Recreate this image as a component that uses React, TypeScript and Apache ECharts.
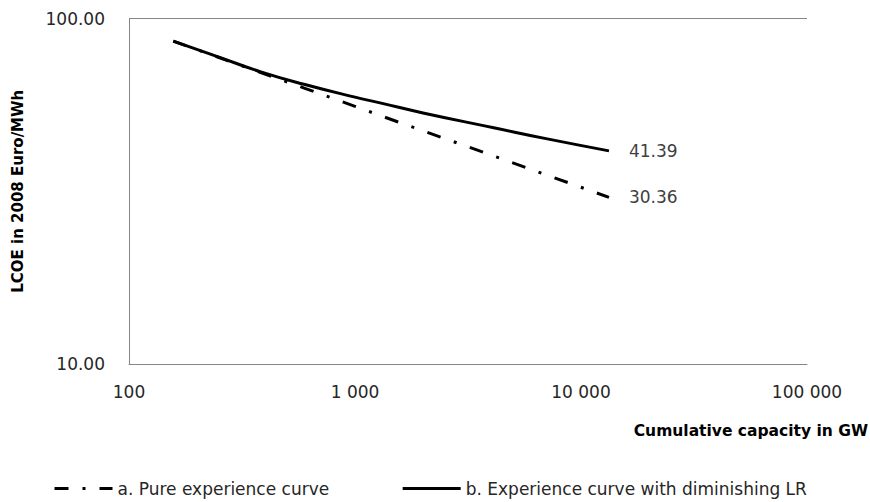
import React, { useEffect, useRef } from "react";
import * as echarts from "echarts";

// Cumulative capacity (GW)
const capacity = [157, 250, 380, 600, 1000, 1290, 2000, 4160, 7000, 13300];
// a. Pure experience curve (Euro/MWh)
const pureCurve = [86.0, 77.1, 69.9, 62.8, 55.7, 52.4, 47.3, 39.9, 35.3, 30.36];
// b. Experience curve with diminishing LR (Euro/MWh)
const diminishingCurve = [86.0, 77.3, 70.2, 64.4, 59.2, 57.0, 53.3, 48.2, 44.9, 41.39];

const seriesNames = ["a. Pure experience curve", "b. Experience curve with diminishing LR"];
const yAxisTitle = "LCOE in 2008 Euro/MWh";
const xAxisTitle = "Cumulative capacity in GW";

const FONT = "DejaVu Sans";

function buildData(values: number[]) {
  return values.map((v, i) => [capacity[i], v]);
}

function fmtThousands(v: number) {
  return String(Math.round(v)).replace(/\B(?=(\d{3})+(?!\d))/g, " ");
}

const endLabel = {
  show: true,
  distance: 20,
  formatter: (p: any) => Number(p.value[1]).toFixed(2),
  color: "#404040",
  fontFamily: FONT,
  fontSize: 17,
};

export default function App() {
  const ref = useRef<HTMLDivElement>(null);
  useEffect(() => {
    if (!ref.current) return;
    const chart = echarts.init(ref.current, undefined, { renderer: "svg" });
    chart.setOption({
      animation: false,
      backgroundColor: "#ffffff",
      grid: { left: 129, right: 63, top: 18.5, bottom: 138, containLabel: false },
      legend: {
        left: 48,
        bottom: 0,
        itemWidth: 58,
        itemHeight: 14,
        itemGap: 72,
        data: seriesNames,
        itemStyle: { opacity: 0 },
        lineStyle: { width: 3 },
        textStyle: { fontFamily: FONT, fontSize: 17, color: "#262626", width: 213 },
      },
      xAxis: {
        type: "log",
        logBase: 10,
        min: 100,
        max: 100000,
        axisLine: { show: true, lineStyle: { color: "#868686", width: 1 } },
        axisTick: { show: false },
        splitLine: { show: false },
        axisLabel: {
          formatter: (v: number) => fmtThousands(v),
          margin: 19,
          color: "#262626",
          fontFamily: FONT,
          fontSize: 17,
        },
      },
      yAxis: {
        type: "log",
        logBase: 10,
        min: 10,
        max: 100,
        name: yAxisTitle,
        nameLocation: "middle",
        nameRotate: 90,
        nameGap: 104,
        nameTextStyle: { fontFamily: FONT, fontSize: 15, fontWeight: "bold", color: "#000" },
        axisLine: { show: true, lineStyle: { color: "#868686", width: 1 } },
        axisTick: { show: false },
        splitLine: { show: true, lineStyle: { color: "#868686", width: 1 } },
        axisLabel: {
          formatter: (v: number) => v.toFixed(2),
          margin: 24,
          color: "#262626",
          fontFamily: FONT,
          fontSize: 17,
        },
      },
      graphic: [
        {
          type: "text",
          right: 2,
          top: 423,
          style: {
            text: xAxisTitle,
            fontFamily: FONT,
            fontSize: 15.5,
            fontWeight: "bold",
            fill: "#000",
          },
        },
      ],
      series: [
        {
          name: seriesNames[0],
          type: "line",
          symbol: "none",
          smooth: false,
          data: buildData(pureCurve),
          lineStyle: { color: "#000", width: 3, type: [14, 14, 3, 14], cap: "butt" },
          itemStyle: { color: "#000" },
          endLabel,
          z: 2,
        },
        {
          name: seriesNames[1],
          type: "line",
          symbol: "none",
          smooth: true,
          data: buildData(diminishingCurve),
          lineStyle: { color: "#000", width: 3, type: "solid" },
          itemStyle: { color: "#000" },
          endLabel,
          z: 3,
        },
      ],
    });
    return () => chart.dispose();
  }, []);
  return (
    <div
      ref={ref}
      style={{ position: "fixed", left: 0, top: 0, width: 870, height: 502 }}
    />
  );
}
